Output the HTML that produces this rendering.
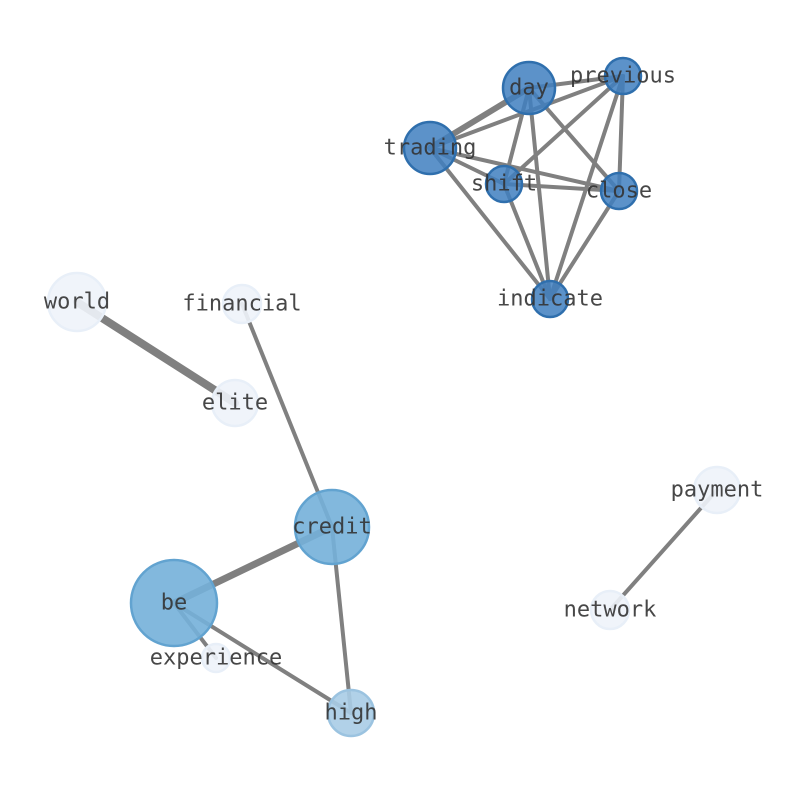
<!DOCTYPE html>
<html><head><meta charset="utf-8"><style>
html,body{margin:0;padding:0;background:#fff}
svg text{font-family:"DejaVu Sans Mono","Liberation Mono",monospace;font-size:22px;fill:#333;fill-opacity:0.9;text-anchor:middle;dominant-baseline:central}
</style></head><body>
<svg width="794" height="790" viewBox="0 0 794 790" xmlns="http://www.w3.org/2000/svg">
<g stroke="#808080" stroke-linecap="round" stroke-width="4">
<line x1="529" y1="88" x2="430" y2="148" stroke-width="6"/>
<line x1="529" y1="88" x2="623" y2="76"/>
<line x1="529" y1="88" x2="504" y2="184"/>
<line x1="529" y1="88" x2="619" y2="191"/>
<line x1="529" y1="88" x2="550" y2="299"/>
<line x1="430" y1="148" x2="623" y2="76"/>
<line x1="430" y1="148" x2="504" y2="184"/>
<line x1="430" y1="148" x2="619" y2="191"/>
<line x1="430" y1="148" x2="550" y2="299"/>
<line x1="504" y1="184" x2="623" y2="76"/>
<line x1="504" y1="184" x2="619" y2="191"/>
<line x1="504" y1="184" x2="550" y2="299"/>
<line x1="623" y1="76" x2="619" y2="191"/>
<line x1="623" y1="76" x2="550" y2="299"/>
<line x1="619" y1="191" x2="550" y2="299"/>
<line x1="77" y1="302" x2="235" y2="403" stroke-width="8"/>
<line x1="242" y1="304" x2="332" y2="527"/>
<line x1="332" y1="527" x2="174" y2="603" stroke-width="7"/>
<line x1="332" y1="527" x2="351" y2="713"/>
<line x1="174" y1="603" x2="351" y2="713"/>
<line x1="174" y1="603" x2="216" y2="658"/>
<line x1="717" y1="490" x2="610" y2="610"/>
</g>
<g stroke-width="2.5">
<circle cx="529" cy="88" r="26" fill="#3f7fbf" fill-opacity="0.85" stroke="#2f6fad"/>
<circle cx="623" cy="76" r="18" fill="#3f7fbf" fill-opacity="0.85" stroke="#2f6fad"/>
<circle cx="430" cy="148" r="26" fill="#3f7fbf" fill-opacity="0.85" stroke="#2f6fad"/>
<circle cx="504" cy="184" r="18" fill="#3f7fbf" fill-opacity="0.85" stroke="#2f6fad"/>
<circle cx="619" cy="191" r="18" fill="#3f7fbf" fill-opacity="0.85" stroke="#2f6fad"/>
<circle cx="550" cy="299" r="18" fill="#3f7fbf" fill-opacity="0.85" stroke="#2f6fad"/>
<circle cx="77" cy="302" r="29" fill="#eef3fa" fill-opacity="0.9" stroke="#e8eff8"/>
<circle cx="242" cy="304" r="19" fill="#eef3fa" fill-opacity="0.9" stroke="#e8eff8"/>
<circle cx="235" cy="403" r="23" fill="#eef3fa" fill-opacity="0.9" stroke="#e8eff8"/>
<circle cx="332" cy="527" r="37" fill="#74b0d9" fill-opacity="0.9" stroke="#62a3d0"/>
<circle cx="174" cy="603" r="43" fill="#74b0d9" fill-opacity="0.9" stroke="#62a3d0"/>
<circle cx="216" cy="658" r="14" fill="#eef3fa" fill-opacity="0.9" stroke="#e8eff8"/>
<circle cx="351" cy="713" r="23" fill="#a9cce5" fill-opacity="0.9" stroke="#9bc3e0"/>
<circle cx="717" cy="490" r="23" fill="#eef3fa" fill-opacity="0.9" stroke="#e8eff8"/>
<circle cx="610" cy="610" r="19" fill="#eef3fa" fill-opacity="0.9" stroke="#e8eff8"/>
</g>
<text x="529" y="88">day</text>
<text x="623" y="76">previous</text>
<text x="430" y="148">trading</text>
<text x="504" y="184">shift</text>
<text x="619" y="191">close</text>
<text x="550" y="299">indicate</text>
<text x="77" y="302">world</text>
<text x="242" y="304">financial</text>
<text x="235" y="403">elite</text>
<text x="332" y="527">credit</text>
<text x="174" y="603">be</text>
<text x="216" y="658">experience</text>
<text x="351" y="713">high</text>
<text x="717" y="490">payment</text>
<text x="610" y="610">network</text>
</svg>
</body></html>
